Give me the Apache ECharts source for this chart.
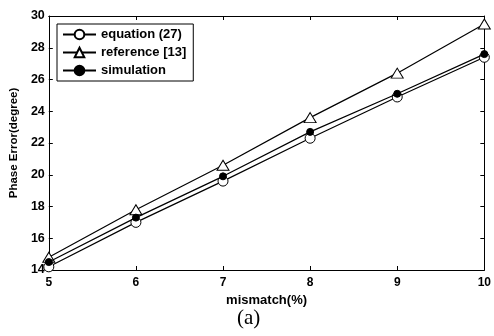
<!DOCTYPE html>
<html>
<head>
<meta charset="utf-8">
<script src="https://cdn.jsdelivr.net/npm/echarts@6/dist/echarts.min.js"></script>
<style>
  html, body { margin: 0; padding: 0; background: #fff; }
  #chart { width: 494px; height: 336px; }
</style>
</head>
<body>
<div id="chart"></div>
<script>
// mismatch (%) on x axis
var mismatch = [5, 6, 7, 8, 9, 10];
// phase error values
var equation27 = [14.2, 17.0, 19.6, 22.3, 24.9, 27.4];
var reference13 = [14.8, 17.8, 20.6, 23.6, 26.4, 29.5];
var simulation = [14.5, 17.3, 19.9, 22.7, 25.1, 27.6];

function pairs(xs, ys) {
  return xs.map(function (x, i) { return [x, ys[i]] })
}

var font = 'Arial, "Liberation Sans", sans-serif';
var chart = echarts.init(document.getElementById('chart'), null, { renderer: 'canvas' });

var axisBase = {
  type: 'value',
  axisLine: { show: true, onZero: false, lineStyle: { color: '#000', width: 1 } },
  axisTick: { show: true, inside: true, length: 4, lineStyle: { color: '#000' } },
  splitLine: { show: false }
};

var option = {
  animation: false,
  backgroundColor: '#fff',
  grid: { left: 46, top: 16, right: 7, bottom: 66, containLabel: false },
  legend: {
    orient: 'vertical',
    left: 57,
    top: 24,
    padding: [4, 7, 4, 5],
    itemGap: 5,
    itemWidth: 33,
    itemHeight: 12,
    borderColor: '#000',
    borderWidth: 1,
    borderRadius: 0,
    backgroundColor: '#fff',
    textStyle: { fontFamily: font, fontWeight: 'bold', fontSize: 13, color: '#000' },
    data: ['equation (27)', 'reference [13]', 'simulation']
  },
  xAxis: [
    Object.assign({}, axisBase, {
      min: 5, max: 10, interval: 1,
      name: 'mismatch(%)',
      nameLocation: 'middle',
      nameGap: 20,
      nameTextStyle: { fontFamily: font, fontWeight: 'bold', fontSize: 13, color: '#000' },
      axisLabel: { fontFamily: font, fontWeight: 'bold', fontSize: 12, color: '#000', margin: 7 }
    }),
    Object.assign({}, axisBase, {
      position: 'top', min: 5, max: 10, interval: 1,
      axisLabel: { show: false }
    })
  ],
  yAxis: [
    Object.assign({}, axisBase, {
      min: 14, max: 30, interval: 2,
      name: 'Phase Error(degree)',
      nameLocation: 'middle',
      nameGap: 28,
      nameTextStyle: { fontFamily: font, fontWeight: 'bold', fontSize: 11.5, color: '#000' },
      axisLabel: { fontFamily: font, fontWeight: 'bold', fontSize: 12.5, color: '#000', margin: 4 }
    }),
    Object.assign({}, axisBase, {
      position: 'right', min: 14, max: 30, interval: 2,
      axisLabel: { show: false }
    })
  ],
  series: [
    {
      name: 'equation (27)',
      type: 'line',
      data: pairs(mismatch, equation27),
      symbol: 'circle',
      symbolSize: 10,
      itemStyle: { color: '#fff', borderColor: '#000', borderWidth: 1 },
      lineStyle: { color: '#000', width: 1.2 },
      z: 3
    },
    {
      name: 'reference [13]',
      type: 'line',
      data: pairs(mismatch, reference13),
      symbol: 'triangle',
      symbolSize: [12, 10],
      itemStyle: { color: '#fff', borderColor: '#000', borderWidth: 1 },
      lineStyle: { color: '#000', width: 1.2 },
      z: 3
    },
    {
      name: 'simulation',
      type: 'line',
      data: pairs(mismatch, simulation),
      symbol: 'circle',
      symbolSize: 7,
      itemStyle: { color: '#000', borderColor: '#000', borderWidth: 1 },
      lineStyle: { color: '#000', width: 1.2 },
      z: 4
    }
  ],
  graphic: [{
    type: 'text',
    left: 237,
    top: 308,
    style: { text: '(a)', fontFamily: '"Liberation Serif", "DejaVu Serif", serif', fontSize: 21, fill: '#000' }
  }]
};

chart.setOption(option);
</script>
</body>
</html>
